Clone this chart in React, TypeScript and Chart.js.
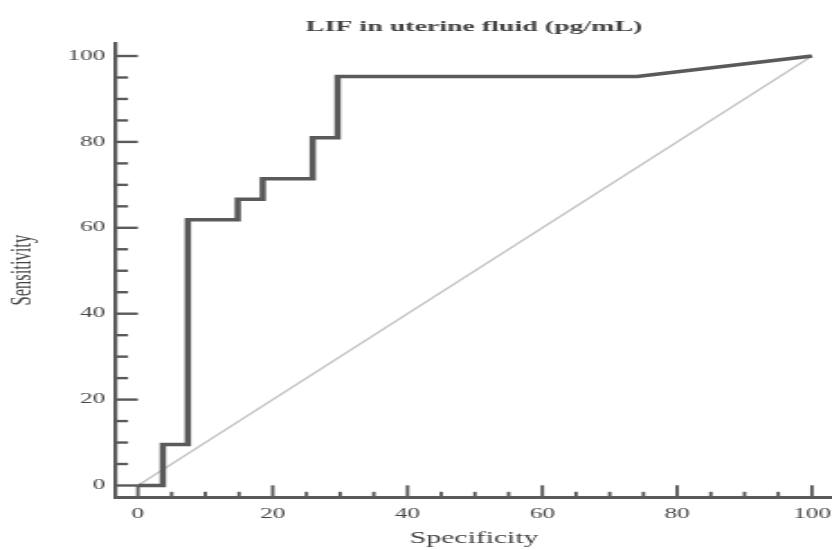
import React, { useEffect, useRef } from 'react';
import { Chart, registerables } from 'chart.js';

Chart.register(...registerables);

// ROC curve vertices (x = 100 - specificity as printed on axis "Specificity", y = sensitivity)
const rocSpecificity = [0, 3.7, 3.7, 7.41, 7.41, 14.81, 14.81, 18.52, 18.52, 25.93, 25.93, 29.63, 29.63, 74.07, 100];
const rocSensitivity = [0, 0, 9.52, 9.52, 61.9, 61.9, 66.67, 66.67, 71.43, 71.43, 80.95, 80.95, 95.24, 95.24, 100];

// Reference (chance) diagonal
const diagonalX = [0, 100];
const diagonalY = [0, 100];

// Axis ticks
const majorTicks = [0, 20, 40, 60, 80, 100];
const minorTicks = [5, 10, 15, 25, 30, 35, 45, 50, 55, 65, 70, 75, 85, 90, 95];

const chartTitle = 'LIF in uterine fluid (pg/mL)';
const xTitle = 'Specificity';
const yTitle = 'Sensitivity';

const FONT = "'Liberation Serif', 'Times New Roman', serif";
const TEXT = '#444444';
const AXIS = '#5a5a5a';
const CURVE = '#5a5a5a';
const DIAG = '#c4c4c4';

const CANVAS_W = 462;
const CANVAS_H = 550;

const axisTicksPlugin = {
  id: 'axisTicks',
  afterDraw(chart: any) {
    const { ctx, chartArea, scales } = chart;
    const xs = scales.x;
    const ys = scales.y;
    ctx.save();
    ctx.strokeStyle = AXIS;
    ctx.lineCap = 'butt';
    // y-axis ticks (inward)
    ctx.lineWidth = 2.4;
    const drawY = (v: number, len: number) => {
      const y = ys.getPixelForValue(v);
      ctx.beginPath();
      ctx.moveTo(chartArea.left, y);
      ctx.lineTo(chartArea.left + len, y);
      ctx.stroke();
    };
    majorTicks.forEach((v) => drawY(v, 12));
    minorTicks.forEach((v) => drawY(v, 6.5));
    // x-axis ticks (inward)
    ctx.lineWidth = 1.9;
    const drawX = (v: number, len: number) => {
      const x = xs.getPixelForValue(v);
      ctx.beginPath();
      ctx.moveTo(x, chartArea.bottom);
      ctx.lineTo(x, chartArea.bottom - len);
      ctx.stroke();
    };
    majorTicks.forEach((v) => drawX(v, 12));
    minorTicks.forEach((v) => drawX(v, 5.5));
    ctx.restore();
  },
};

export default function App() {
  const canvasRef = useRef<HTMLCanvasElement | null>(null);

  useEffect(() => {
    if (!canvasRef.current) return;
    const rocPoints = rocSpecificity.map((x, i) => ({ x, y: rocSensitivity[i] }));
    const diagPoints = diagonalX.map((x, i) => ({ x, y: diagonalY[i] }));

    const chart = new Chart(canvasRef.current, {
      type: 'line',
      data: {
        datasets: [
          {
            label: 'ROC',
            data: rocPoints,
            borderColor: CURVE,
            borderWidth: 3.5,
            pointRadius: 0,
            tension: 0,
            fill: false,
            borderJoinStyle: 'miter',
          },
          {
            label: 'Reference',
            data: diagPoints,
            borderColor: DIAG,
            borderWidth: 1.4,
            pointRadius: 0,
            tension: 0,
            fill: false,
          },
        ],
      },
      options: {
        responsive: false,
        animation: false,
        devicePixelRatio: 1,
        layout: { padding: 0 },
        events: [],
        plugins: {
          legend: { display: false },
          tooltip: { enabled: false },
          title: {
            display: true,
            text: chartTitle,
            color: TEXT,
            fullSize: false,
            font: { family: FONT, size: 15.5, weight: 'bold', lineHeight: 1.2 },
            padding: { top: 17.7, bottom: 6.7 },
          },
        },
        scales: {
          x: {
            type: 'linear',
            min: -3.21,
            max: 102.97,
            afterBuildTicks: (s: any) => {
              s.ticks = majorTicks.map((v) => ({ value: v }));
            },
            afterFit: (s: any) => {
              s.height = 52.7;
              s.paddingLeft = 0;
              s.paddingRight = 0;
            },
            ticks: {
              autoSkip: false,
              maxRotation: 0,
              minRotation: 0,
              padding: 8.3,
              color: TEXT,
              font: { family: FONT, size: 14, lineHeight: 1.2 },
              callback: (v: any) => String(v),
            },
            grid: { display: false, drawTicks: false, tickLength: 0 },
            border: { display: true, color: AXIS, width: 3 },
            title: {
              display: true,
              text: xTitle,
              color: TEXT,
              font: { family: FONT, size: 16.5, lineHeight: 1 },
              padding: { top: 0, bottom: 3.35 },
            },
          },
          y: {
            type: 'linear',
            min: -2.75,
            max: 103.03,
            afterBuildTicks: (s: any) => {
              s.ticks = majorTicks.map((v) => ({ value: v }));
            },
            afterFit: (s: any) => {
              s.width = 64.6;
              s.paddingTop = 0;
              s.paddingBottom = 0;
            },
            ticks: {
              autoSkip: false,
              padding: 6,
              color: TEXT,
              font: { family: FONT, size: 14, lineHeight: 1.2 },
              callback: (v: any) => String(v),
            },
            grid: { display: false, drawTicks: false, tickLength: 0 },
            border: { display: true, color: AXIS, width: 2.2 },
            title: {
              display: true,
              text: yTitle,
              color: TEXT,
              font: { family: FONT, size: 16.5, lineHeight: 1 },
              padding: { top: 4.25, bottom: 0 },
            },
          },
        },
      },
      plugins: [axisTicksPlugin],
    } as any);

    return () => {
      chart.destroy();
    };
  }, []);

  return (
    <canvas
      ref={canvasRef}
      width={CANVAS_W}
      height={CANVAS_H}
      style={{
        position: 'absolute',
        left: 0,
        top: 0,
        width: '832px',
        height: '550px',
        background: '#ffffff',
      }}
    />
  );
}
